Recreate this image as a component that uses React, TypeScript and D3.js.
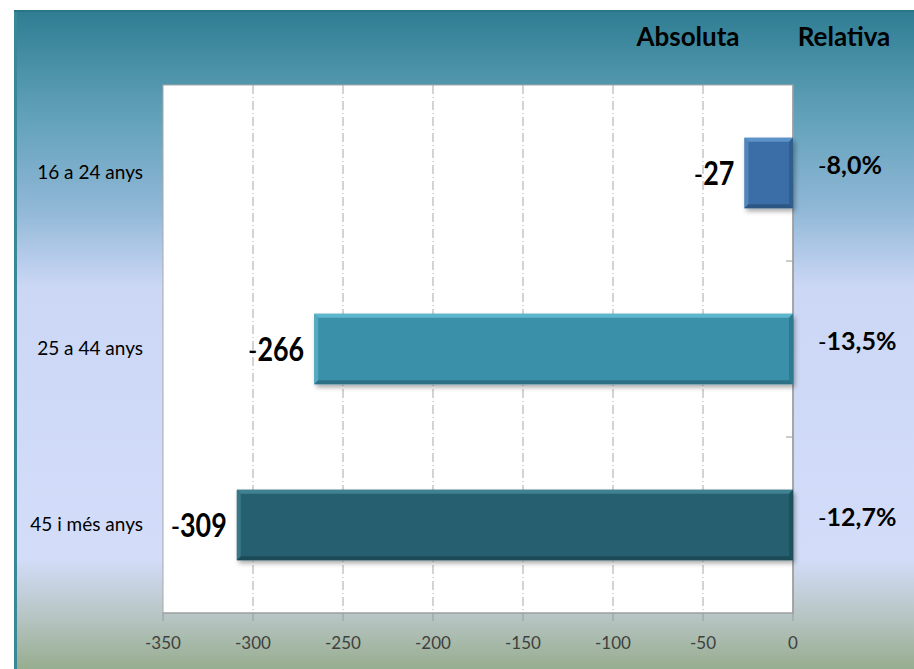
import React from "react";
import * as d3 from "d3";

const categories = ["16 a 24 anys", "25 a 44 anys", "45 i més anys"];
const absoluteValues = [-27, -266, -309];
const relativeValues = [-8.0, -13.5, -12.7];
const xTicks = [-350, -300, -250, -200, -150, -100, -50, 0];
const headers = ["Absoluta", "Relativa"];
const barColors = ["#3a6ea6", "#3a90a9", "#265f6f"];
const barLight = ["#5d92c9", "#5cb6cc", "#3f8191"];
const barDark = ["#2c5783", "#2c7186", "#1c4a57"];

const W = 914;
const H = 669;
const plot = { left: 163, right: 793, top: 85, bottom: 613 };
const FONT = "Lato, 'Open Sans', sans-serif";

export default function App() {
  const x = d3.scaleLinear().domain([-350, 0]).range([plot.left, plot.right]);
  const y = d3.scaleBand<string>().domain(categories).range([plot.top, plot.bottom]).padding(0);
  const bh = y.bandwidth() * 0.4;
  const fmtRel = (v: number) => d3.format(".1f")(Math.abs(v)).replace(".", ",") + "%";
  const b = 4;

  return (
    <svg width={W} height={H} style={{ position: "absolute", left: 0, top: 0 }}>
      <defs>
        <linearGradient id="bg" x1="0" y1="0" x2="0" y2="1">
          <stop offset="0" stopColor="#2e7d92" />
          <stop offset="0.15" stopColor="#5e9fb7" />
          <stop offset="0.30" stopColor="#8fb7d6" />
          <stop offset="0.42" stopColor="#cbd7f5" />
          <stop offset="0.83" stopColor="#d3ddfa" />
          <stop offset="0.92" stopColor="#b7c5c4" />
          <stop offset="1" stopColor="#97ad8f" />
        </linearGradient>
        <filter id="shadow" x="-10%" y="-20%" width="130%" height="160%">
          <feDropShadow dx="2" dy="3" stdDeviation="2.5" floodColor="#000" floodOpacity="0.35" />
        </filter>
      </defs>
      <rect x={14} y={10} width={W - 14} height={H - 10} fill="url(#bg)" />
      <rect x={14} y={10} width={3} height={H - 10} fill="#3b8798" />
      <rect x={14} y={10} width={W - 14} height={2} fill="#2b7488" />

      <rect x={plot.left} y={plot.top} width={plot.right - plot.left} height={plot.bottom - plot.top}
        fill="#ffffff" stroke="#a8a8a8" strokeWidth={1} />

      {xTicks.filter((t) => t !== -350 && t !== 0).map((t) => (
        <line key={"g" + t} x1={x(t)} x2={x(t)} y1={plot.top} y2={plot.bottom}
          stroke="#a6a6a6" strokeWidth={1} strokeDasharray="9 3 1 3" />
      ))}

      {/* axes */}
      <line x1={plot.left} x2={plot.right} y1={plot.bottom} y2={plot.bottom} stroke="#9a9a9a" />
      <line x1={plot.right} x2={plot.right} y1={plot.top} y2={plot.bottom} stroke="#9a9a9a" strokeWidth={1.5} />
      {xTicks.map((t) => (
        <g key={"t" + t}>
          <line x1={x(t)} x2={x(t)} y1={plot.bottom} y2={plot.bottom + 8} stroke="#9a9a9a" />
          <text x={x(t)} y={649} textAnchor="middle" fontFamily={FONT} fontSize={17} fill="#404040">
            {t}
          </text>
        </g>
      ))}
      {categories.slice(1).map((c) => (
        <line key={"ct" + c} x1={plot.right - 7} x2={plot.right} y1={y(c)!} y2={y(c)!} stroke="#9a9a9a" />
      ))}

      {/* bars */}
      {categories.map((c, i) => {
        const v = absoluteValues[i];
        const x0 = x(v);
        const x1 = x(0);
        const cy = y(c)! + y.bandwidth() / 2;
        const y0 = cy - bh / 2;
        const y1 = cy + bh / 2;
        return (
          <g key={"b" + c}>
            <rect x={x0} y={y0} width={x1 - x0} height={bh} fill={barColors[i]} filter="url(#shadow)" />
            <polygon points={`${x0},${y0} ${x1},${y0} ${x1 - b},${y0 + b} ${x0 + b},${y0 + b}`} fill={barLight[i]} />
            <polygon points={`${x0},${y0} ${x0 + b},${y0 + b} ${x0 + b},${y1 - b} ${x0},${y1}`} fill={barLight[i]} opacity={0.7} />
            <polygon points={`${x0},${y1} ${x0 + b},${y1 - b} ${x1 - b},${y1 - b} ${x1},${y1}`} fill={barDark[i]} />
            <polygon points={`${x1},${y0} ${x1},${y1} ${x1 - b},${y1 - b} ${x1 - b},${y0 + b}`} fill={barDark[i]} opacity={0.7} />
          </g>
        );
      })}

      {/* value labels */}
      {categories.map((c, i) => {
        const v = absoluteValues[i];
        const cy = y(c)! + y.bandwidth() / 2;
        return (
          <g key={"v" + c} transform={`translate(${x(v) - 10},${cy + 12}) scale(0.84,1)`}>
            <text textAnchor="end" fontFamily={FONT} fontSize={32} fill="#000">
              <tspan fontWeight="normal" fontSize={30}>-</tspan>
              <tspan fontWeight="bold">{Math.abs(v)}</tspan>
            </text>
          </g>
        );
      })}

      {/* relative labels */}
      {categories.map((c, i) => {
        const cy = y(c)! + y.bandwidth() / 2;
        return (
          <text key={"r" + c} x={818} y={cy + 1} fontFamily={FONT} fontSize={25} fill="#000">
            <tspan fontWeight="normal" fontSize={23}>-</tspan>
            <tspan fontWeight="bold">{fmtRel(relativeValues[i])}</tspan>
          </text>
        );
      })}

      {/* category labels */}
      {categories.map((c) => (
        <text key={"c" + c} x={143} y={y(c)! + y.bandwidth() / 2 + 6} textAnchor="end"
          fontFamily={FONT} fontSize={19} fill="#000">
          {c}
        </text>
      ))}

      {/* headers */}
      <text x={688} y={46} textAnchor="middle" fontFamily={FONT} fontSize={26} fontWeight="bold" fill="#000">
        {headers[0]}
      </text>
      <text x={844} y={46} textAnchor="middle" fontFamily={FONT} fontSize={26} fontWeight="bold" fill="#000">
        {headers[1]}
      </text>
    </svg>
  );
}
